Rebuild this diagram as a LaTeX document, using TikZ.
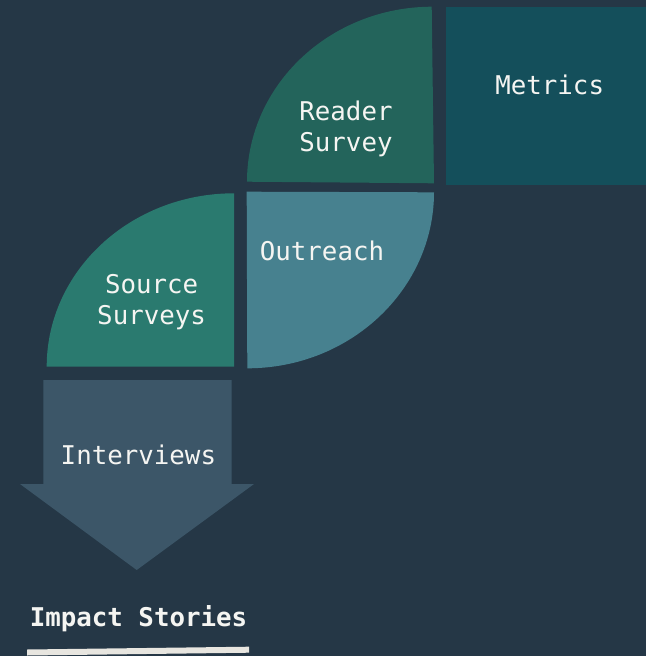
\documentclass[tikz,border=0pt]{standalone}
\usepackage{fontspec}
\newfontfamily\mono{DejaVu Sans Mono}
\definecolor{fondo}{HTML}{253746}
\definecolor{lector}{HTML}{23645B}
\definecolor{metricas}{HTML}{144F5B}
\definecolor{alcance}{HTML}{47818F}
\definecolor{fuentes}{HTML}{2A7A6F}
\definecolor{flecha}{HTML}{3C5668}
\definecolor{barra}{HTML}{E8E6E0}
\definecolor{letra}{HTML}{F5F5F2}
\tikzset{
  texto/.style={text=letra, font=\mono\fontsize{25.8}{31}\selectfont, align=center, inner sep=0pt},
  titulo/.style={texto, font=\mono\bfseries\fontsize{25.8}{31}\selectfont}
}
\begin{document}
\begin{tikzpicture}[x=1pt,y=-1pt]
  %fondo
  \fill[fondo] (0,0) rectangle (646,656);
  \useasboundingbox (0,0) rectangle (646,656);
  %%%% FORMAS!!!
  \fill[lector] (247,181.7) .. controls (247,85) and (330,7) .. (431.7,6.7) -- (434,183.3) -- cycle;
  \fill[metricas] (446,6.7) rectangle (646,185);
  \fill[alcance] (246.7,191.7) -- (434,192.3) .. controls (434,289.2) and (350.3,368.3) .. (247.3,368.3) -- cycle;
  \fill[fuentes] (46.7,366.7) .. controls (46.7,270.9) and (130.7,193.3) .. (234,193.3) -- (234,366.7) -- cycle;
  %%%FLECHA
  \fill[flecha] (43.3,380) -- (231.7,380) -- (231.7,484) -- (254,484) -- (136.7,570) -- (20,484) -- (43.3,484) -- cycle;
  %barra de abajo
  \fill[barra] (27,649.5) -- (249,646.7) -- (249,652.7) -- (27,655.5) -- cycle;
  %%%TEXTOS
  \node[texto,anchor=base] at (549.7,94.7) (metrics) {Metrics};
  \node[texto] at (346,128.7) (reader) {Reader\\Survey};
  \node[texto,anchor=base] at (322,260.7) (outreach) {Outreach};
  \node[texto] at (151.6,302.4) (source) {Source\\Surveys};
  \node[texto,anchor=base] at (138.4,464.3) (interviews) {Interviews};
  \node[titulo,anchor=base] at (138.5,626) (impact) {Impact Stories};
\end{tikzpicture}
\end{document}
